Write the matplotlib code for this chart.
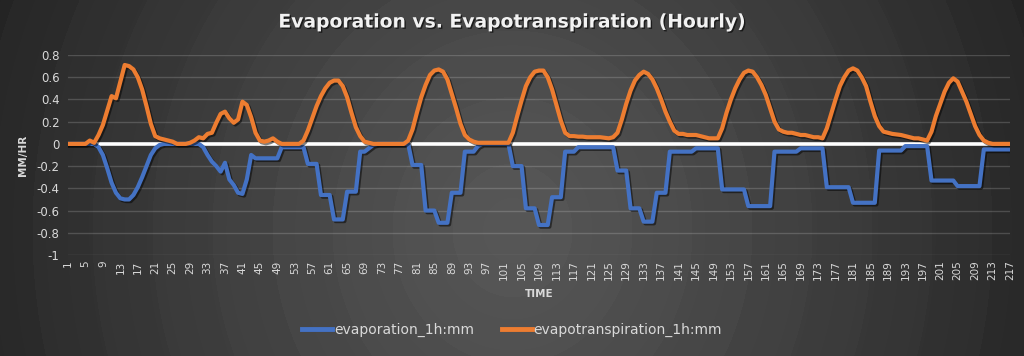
import numpy as np
import matplotlib
matplotlib.use("Agg")
import matplotlib.pyplot as plt
import matplotlib.patheffects as pe

# ---------------- data ----------------
hours = list(range(1, 218))
tick_labels = [str(h) for h in range(1, 218, 4)]

evapotranspiration = [
    0, 0, 0, 0, 0,
    0.03, 0.01, 0.08, 0.17, 0.30, 0.43, 0.41, 0.56, 0.71, 0.70, 0.67, 0.60, 0.49, 0.34, 0.18, 0.07,
    0.05, 0.04, 0.03, 0.02, 0.0,
    0, 0, 0.01, 0.03, 0.06, 0.05, 0.09, 0.10, 0.19, 0.27, 0.29, 0.23, 0.19, 0.22, 0.38, 0.35, 0.24,
    0.10, 0.03, 0.02, 0.03, 0.05, 0.02,
    0, 0, 0, 0, 0,
    0.03, 0.12, 0.23, 0.34, 0.43, 0.50, 0.55, 0.57, 0.57, 0.52, 0.42, 0.28, 0.15, 0.07, 0.02, 0.01,
    0, 0, 0, 0, 0, 0, 0, 0,
    0.03, 0.13, 0.28, 0.42, 0.53, 0.62, 0.66, 0.67, 0.65, 0.58, 0.45, 0.32, 0.18, 0.08, 0.04, 0.02,
    0.01, 0.01, 0.01, 0.01, 0.01, 0.01, 0.01, 0.01,
    0.10, 0.25, 0.39, 0.52, 0.60, 0.65, 0.66, 0.66, 0.60, 0.49, 0.35, 0.21, 0.10, 0.07, 0.07,
    0.065, 0.065, 0.06, 0.06, 0.06, 0.06, 0.055, 0.05, 0.06,
    0.10, 0.22, 0.36, 0.48, 0.57, 0.62, 0.65, 0.63, 0.58, 0.50, 0.40, 0.29, 0.20, 0.12, 0.09,
    0.09, 0.08, 0.08, 0.08, 0.07, 0.06, 0.05, 0.05,
    0.05, 0.14, 0.28, 0.40, 0.50, 0.58, 0.64, 0.66, 0.65, 0.60, 0.53, 0.44, 0.32, 0.20, 0.13,
    0.11, 0.10, 0.10, 0.09, 0.08, 0.08, 0.07, 0.06, 0.06,
    0.05, 0.14, 0.27, 0.40, 0.52, 0.60, 0.66, 0.68, 0.66, 0.60, 0.52, 0.38, 0.25, 0.16, 0.11,
    0.10, 0.09, 0.085, 0.08, 0.07, 0.06, 0.05, 0.05, 0.04,
    0.03, 0.11, 0.25, 0.36, 0.47, 0.55, 0.59, 0.56, 0.47, 0.38, 0.27, 0.16, 0.08, 0.03, 0.01,
    0, 0, 0, 0, 0,
]

evaporation = [
    0, 0, 0, 0, 0, 0, 0,
    -0.03, -0.10, -0.22, -0.35, -0.44, -0.49, -0.50, -0.50, -0.46, -0.39, -0.30, -0.20, -0.10,
    -0.04, -0.01,
    0, 0, 0, 0, 0, 0, 0, 0, 0,
    -0.03, -0.10, -0.16, -0.20, -0.25, -0.17, -0.32, -0.37, -0.44, -0.45, -0.32, -0.10, -0.13,
    -0.13, -0.13, -0.13, -0.13, -0.13,
    -0.03, -0.03, -0.03, -0.03, -0.03, -0.03,
    -0.18, -0.18, -0.18, -0.46, -0.46, -0.46, -0.68, -0.68, -0.68, -0.43, -0.43, -0.43,
    -0.07, -0.07, -0.04, -0.01,
    0, 0, 0, 0, 0, 0, 0, 0,
    -0.19, -0.19, -0.19, -0.60, -0.60, -0.60, -0.71, -0.71, -0.71, -0.44, -0.44, -0.44,
    -0.07, -0.07, -0.07, -0.02,
    0, 0, 0, 0, 0, 0, 0,
    -0.20, -0.20, -0.20, -0.58, -0.58, -0.58, -0.73, -0.73, -0.73, -0.48, -0.48, -0.48,
    -0.07, -0.07, -0.07,
    -0.03, -0.03, -0.03, -0.03, -0.03, -0.03, -0.03, -0.03, -0.03,
    -0.24, -0.24, -0.24, -0.58, -0.58, -0.58, -0.70, -0.70, -0.70, -0.44, -0.44, -0.44,
    -0.07, -0.07, -0.07, -0.07, -0.07, -0.07,
    -0.04, -0.04, -0.04, -0.04, -0.04, -0.04,
    -0.41, -0.41, -0.41, -0.41, -0.41, -0.41,
    -0.56, -0.56, -0.56, -0.56, -0.56, -0.56,
    -0.07, -0.07, -0.07, -0.07, -0.07, -0.07,
    -0.04, -0.04, -0.04, -0.04, -0.04, -0.04,
    -0.39, -0.39, -0.39, -0.39, -0.39, -0.39,
    -0.53, -0.53, -0.53, -0.53, -0.53, -0.53,
    -0.06, -0.06, -0.06, -0.06, -0.06, -0.06,
    -0.02, -0.02, -0.02, -0.02, -0.02, -0.02,
    -0.33, -0.33, -0.33, -0.33, -0.33, -0.33,
    -0.38, -0.38, -0.38, -0.38, -0.38, -0.38,
    -0.05, -0.05, -0.05, -0.05, -0.05, -0.05, -0.05,
]

# ---------------- figure ----------------
W, H = 1024, 356
fig = plt.figure(figsize=(W / 100, H / 100), dpi=100)

# radial gradient background (decoration)
bg = fig.add_axes([0, 0, 1, 1], zorder=-10)
yy, xx = np.mgrid[0:H, 0:W]
r = np.hypot(xx - 512, (yy - 230) * 0.9)
step = 60.0
band = np.floor(r / step) * step
band = 0.55 * band + 0.45 * r
t = np.clip(band / 560.0, 0, 1)
lvl = 0.34 - (0.34 - 0.135) * t ** 1.15
img = np.dstack([lvl, lvl, lvl])
bg.imshow(img, extent=[0, 1, 0, 1], aspect="auto", interpolation="bilinear")
bg.set_axis_off()

ax = fig.add_axes([68 / W, 1 - 255 / H, (1010 - 68) / W, 200 / H])
ax.set_facecolor("none")

ax.set_xlim(1, 217)
ax.set_ylim(-1, 0.8)
yt = [-1, -0.8, -0.6, -0.4, -0.2, 0, 0.2, 0.4, 0.6, 0.8]
ax.set_yticks(yt)
ax.set_yticklabels(["-1", "-0.8", "-0.6", "-0.4", "-0.2", "0", "0.2", "0.4", "0.6", "0.8"])
ax.set_xticks(list(range(1, 218, 4)))
ax.set_xticklabels(tick_labels, rotation=90, fontsize=7.5, color="#d9d9d9")
ax.tick_params(axis="y", length=0, labelsize=8.5, labelcolor="#d9d9d9", pad=6)
ax.tick_params(axis="x", length=0, pad=4)
for s in ax.spines.values():
    s.set_visible(False)
ax.grid(axis="y", color="white", alpha=0.17, lw=1)
ax.set_axisbelow(True)

ax.axhline(0, color="white", lw=2.6, zorder=2)

shadow = [pe.SimpleLineShadow(offset=(1.2, -1.2), shadow_color="black", alpha=0.5), pe.Normal()]
ax.plot(hours, evaporation, color="#4472C4", lw=3.0, zorder=3,
        label="evaporation_1h:mm", path_effects=shadow, solid_joinstyle="round")
ax.plot(hours, evapotranspiration, color="#ED7D31", lw=3.0, zorder=4,
        label="evapotranspiration_1h:mm", path_effects=shadow, solid_joinstyle="round")

ax.set_ylabel("MM/HR", fontsize=7.5, fontweight="bold", color="#d9d9d9", labelpad=6)
ax.set_xlabel("TIME", fontsize=7.5, fontweight="bold", color="#d9d9d9", labelpad=6)

title = fig.text(0.5, 1 - 22 / H, "Evaporation vs. Evapotranspiration (Hourly)",
                 ha="center", va="center", fontsize=13.5, color="#f2f2f2",
                 fontfamily="DejaVu Sans", fontweight="bold")
title.set_path_effects([pe.withSimplePatchShadow(offset=(1, -1), shadow_rgbFace="black", alpha=0.6)])

leg = fig.legend(loc="center", bbox_to_anchor=(0.5, 1 - 330 / H), ncol=2, frameon=False,
                 fontsize=10, handlelength=2.2, handletextpad=0.1, columnspacing=2.0)
for txt in leg.get_texts():
    txt.set_color("#d9d9d9")
for line in leg.get_lines():
    line.set_path_effects([])
    line.set_linewidth(3.5)

fig.savefig("out.png", dpi=100)
